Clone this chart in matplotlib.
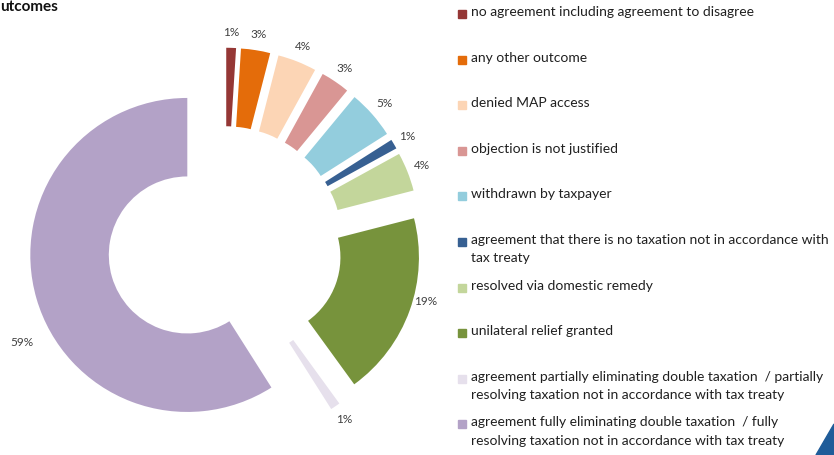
import numpy as np
import matplotlib.pyplot as plt
from matplotlib.patches import Rectangle, Polygon

# MAP case outcomes, share of closed cases (%)
outcomes = [
    "no agreement including agreement to disagree",
    "any other outcome",
    "denied MAP access",
    "objection is not justified",
    "withdrawn by taxpayer",
    "agreement that there is no taxation not in accordance with\ntax treaty",
    "resolved via domestic remedy",
    "unilateral relief granted",
    "agreement partially eliminating double taxation  / partially\nresolving taxation not in accordance with tax treaty",
    "agreement fully eliminating double taxation  / fully\nresolving taxation not in accordance with tax treaty",
]
shares = [1, 3, 4, 3, 5, 1, 4, 19, 1, 59]
colors = ["#953735", "#E46C0A", "#FCD5B5", "#D99694", "#93CDDD",
          "#376092", "#C3D69B", "#77933C", "#E6E0EC", "#B3A2C7"]

W, H = 834, 455
plt.rcParams['font.family'] = ['Lato', 'DejaVu Sans']

fig = plt.figure(figsize=(W / 100, H / 100), dpi=100)
ax = fig.add_axes([0, 0, 1, 1])

# donut centre and outer radius in pixels
cx, cy, R = 225, 244, 157

wedges, texts, autotexts = ax.pie(
    shares, colors=colors, startangle=90, counterclock=False,
    explode=[0.25] * len(shares), radius=1,
    wedgeprops=dict(width=0.5, linewidth=0),
    autopct=lambda p: f"{p:.0f}%", pctdistance=1.1,
    textprops=dict(fontsize=8.5, color="#404040"))
ax.set_xlim(-cx / R, (W - cx) / R)
ax.set_ylim((cy - H) / R, cy / R)
ax.axis("off")

# the big slice label sits further out and a bit lower
big = wedges[-1]
ang = np.deg2rad(208)
bx, by = big.center
autotexts[-1].set_position((bx + 1.19 * np.cos(ang), by + 1.19 * np.sin(ang)))

# 19% label a touch higher
gx, gy = wedges[7].center
ang = np.deg2rad(-15)
autotexts[7].set_position((gx + 1.08 * np.cos(ang), gy + 1.08 * np.sin(ang)))

# legend drawn by hand so wrapped entries align on their first line
for i, (name, col) in enumerate(zip(outcomes, colors)):
    y = 14 + 45.6 * i
    fig.patches.append(Rectangle((458 / W, 1 - (y + 4) / H), 8 / W, 8 / H,
                                 transform=fig.transFigure, color=col))
    fig.text(471 / W, 1 - (y - 8) / H, name, fontsize=10, color="#202020",
             va="top", ha="left", linespacing=1.65)

fig.text(0, 1 - 7 / H, "utcomes", fontsize=11, fontweight="bold",
         va="center", ha="left", color="#111111")

# corner of the slide logo
fig.patches.append(Polygon([(816 / W, 0), (1, 31 / H), (1, 0)],
                           closed=True, transform=fig.transFigure,
                           color="#1F5C99"))

fig.savefig("out.png", dpi=100)
